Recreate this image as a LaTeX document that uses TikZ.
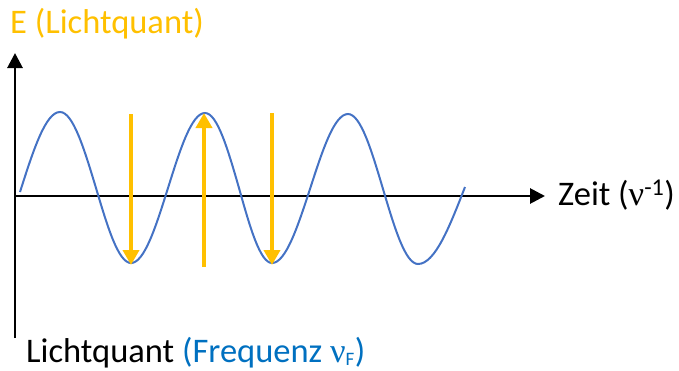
\documentclass[tikz,border=0pt]{standalone}
\usepackage{fontspec}
\setmainfont{Carlito}
\newfontfamily\greekf{Liberation Serif}
\usepackage{xcolor}
\usetikzlibrary{arrows.meta}
\definecolor{quantorange}{RGB}{255,192,0}
\definecolor{wavebl}{RGB}{68,114,196}
\definecolor{textbl}{RGB}{0,112,192}
\newcommand{\nuF}{{\greekf ν}}
\tikzset{
  axis/.style={line width=2.8pt,-{Triangle[length=15pt,width=15pt]}},
  wave/.style={draw=wavebl,line width=2pt},
  quant/.style={draw=quantorange,line width=4pt,-{Triangle[length=15pt,width=16pt]},color=quantorange},
  lbl/.style={inner sep=0pt,anchor=base west,font=\fontsize{34.5}{40}\selectfont},
}
\begin{document}
\begin{tikzpicture}[x=1pt,y=1pt]
  \useasboundingbox (0,0) rectangle (679,-370);

  % --- achsen ---------------------------------------------------------------
  \coordinate (ybot) at (15,-338);
  \coordinate (ytop) at (15,-53);
  \coordinate (xl)   at (14,-196);
  \coordinate (xr)   at (545,-196);
  \draw[axis] (ybot) -- (ytop);
  \draw[axis] (xl) -- (xr);

  % --- beschriftungen -------------------------------------------------------
  \node[lbl,color=quantorange] (elbl) at (10,-33) {E (Lichtquant)};
  \node[lbl] (tlbl) at (558,-205) {Zeit (\nuF\textsuperscript{-1})};
  \node[lbl] (qlbl) at (26,-362)
        {Lichtquant \textcolor{textbl}{(Frequenz \nuF\textsubscript{\fontsize{19}{20}\selectfont F})}};

  % --- welle ----------------------------------------------------------------
  \draw[wave] (20,-192) sin (60,-112) cos (96,-188) sin (131,-263)
              cos (168,-188) sin (205,-113) cos (239,-188) sin (272,-263)
              cos (310,-189) sin (348,-114) cos (383,-189) sin (418,-264)
              cos (465,-187);

  % --- lichtquanten ---------------------------------------------------------
  \coordinate (q1a) at (131,-114);
  \coordinate (q1b) at (131,-265);
  \coordinate (q2a) at (204,-267);
  \coordinate (q2b) at (204,-113);
  \coordinate (q3a) at (272,-113);
  \coordinate (q3b) at (272,-265);
  \draw[quant] (q1a) -- (q1b);
  \draw[quant] (q2a) -- (q2b);
  \draw[quant] (q3a) -- (q3b);
\end{tikzpicture}
\end{document}
